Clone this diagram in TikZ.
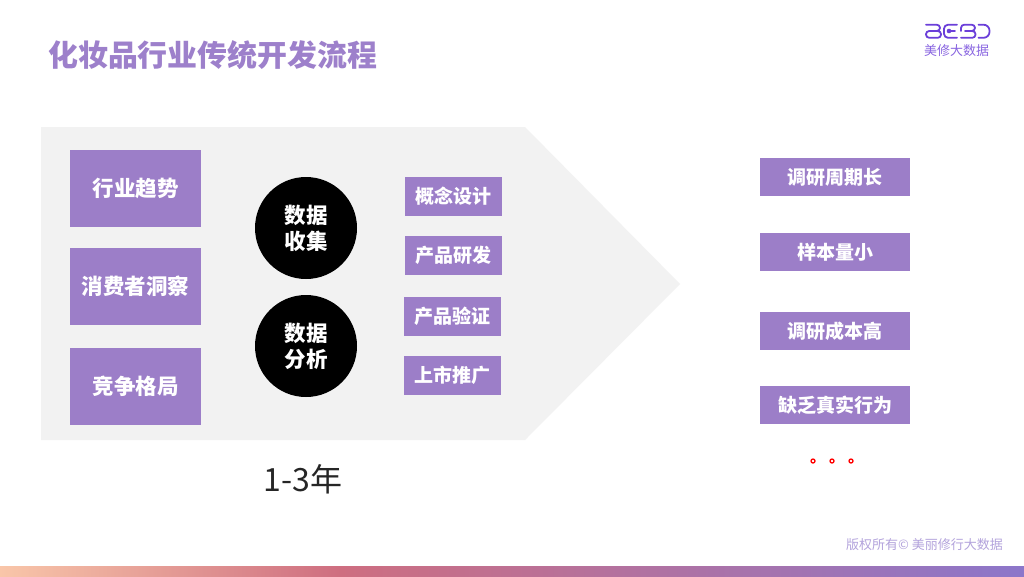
\documentclass[tikz,border=0pt]{standalone}
\usepackage{fontspec}
\setmainfont{Noto Sans CJK SC}
\definecolor{boxpurple}{HTML}{9C7EC8}
\definecolor{titlepurple}{HTML}{9D80CB}
\definecolor{panelgray}{HTML}{F2F2F2}
\definecolor{logopurple}{HTML}{6B3FD9}
\definecolor{copypurple}{HTML}{B3A3DC}
\definecolor{barA}{HTML}{F9C6A9}
\definecolor{barB}{HTML}{CE6E80}
\definecolor{barC}{HTML}{8C76CA}
\tikzset{
 bigbox/.style={fill=boxpurple,draw=none,text=white,font=\fontsize{21.5}{26}\selectfont\bfseries,minimum width=131pt,minimum height=77pt,inner sep=0pt,anchor=center},
 smallbox/.style={fill=boxpurple,draw=none,text=white,font=\fontsize{19}{23}\selectfont\bfseries,minimum width=97pt,minimum height=39pt,inner sep=0pt},
 sidebox/.style={fill=boxpurple,draw=none,text=white,font=\fontsize{19}{23}\selectfont\bfseries,minimum width=150pt,minimum height=38pt,inner sep=0pt},
 blackdot/.style={circle,fill=black,text=white,font=\fontsize{21.5}{26}\selectfont\bfseries,minimum size=102pt,inner sep=0pt,align=center},
 reddot/.style={circle,draw=red,line width=1.3pt,fill=white,minimum size=4pt,inner sep=0pt},
 logoline/.style={draw=logopurple,line width=1.8pt,line cap=round,line join=round,rounded corners=3.2pt},
}
\begin{document}
\begin{tikzpicture}[x=1pt,y=-1pt]
\useasboundingbox (0,0) rectangle (1024,576);
\fill[white] (0,0) rectangle (1024,576);
% bottom bar
\shade[left color=barA,right color=barB] (0,566) rectangle (340,576);
\shade[left color=barB,right color=barC] (340,566) rectangle (1024,576);
% title
\node[anchor=west,inner sep=0pt,text=titlepurple,font=\fontsize{29.9}{34}\selectfont\bfseries] (title) at (48,55) {化妆品行业传统开发流程};
% panel
\fill[panelgray] (41,127) -- (525,127) -- (680,284) -- (525,440) -- (41,440) -- cycle;
% left boxes
\node[bigbox] (a1) at (135.5,188.5) {行业趋势};
\node[bigbox] (a2) at (135.5,286.5) {消费者洞察};
\node[bigbox] (a3) at (135.5,386.5) {竞争格局};
% circles
\node[blackdot] (c1) at (306,228) {数据\\收集};
\node[blackdot] (c2) at (306,346) {数据\\分析};
% middle boxes
\node[smallbox] (b1) at (453.5,196.5) {概念设计};
\node[smallbox] (b2) at (453.5,255.5) {产品研发};
\node[smallbox] (b3) at (452.5,316.5) {产品验证};
\node[smallbox] (b4) at (452.5,375.5) {上市推广};
% right boxes
\node[sidebox] (r1) at (835,177) {调研周期长};
\node[sidebox] (r2) at (835,252) {样本量小};
\node[sidebox] (r3) at (835,331) {调研成本高};
\node[sidebox] (r4) at (835,405) {缺乏真实行为};
% duration
\node[inner sep=0pt,font=\fontsize{32}{36}\selectfont,text=black!85] (dur) at (303,479) {1-3年};
% dots
\node[reddot] (d1) at (813,461) {};
\node[reddot] (d2) at (832,461) {};
\node[reddot] (d3) at (851,461) {};
% logo
\draw[logoline] (926,24.7) -- (940,24.7) -- (940,31) -- (926,31) -- (926,37.8) -- (941,37.8) -- (941,31) -- (936,31);
\draw[logoline,rounded corners=4pt] (957,24.7) -- (944,24.7) -- (944,37.8) -- (957,37.8);
\fill[logopurple] (949,31) circle (2.3pt);
\draw[logoline] (949,31) -- (955,31);
\draw[logoline] (961,31) -- (961,24.7) -- (975,24.7) -- (975,31) -- (965,31);
\draw[logoline] (968,31) -- (975.5,31) -- (975.5,37.8) -- (961,37.8);
\draw[logoline,rounded corners=6pt] (978.5,24.7) -- (989.5,24.7) -- (989.5,37.8) -- (978.5,37.8);
\node[inner sep=0pt,text=logopurple!80,font=\fontsize{13}{15}\selectfont] (logotext) at (956.5,50.5) {美修大数据};
% copyright
\node[anchor=east,inner sep=0pt,text=copypurple,font=\fontsize{13}{16}\selectfont] (copy) at (1003,545) {版权所有© 美丽修行大数据};
\end{tikzpicture}
\end{document}
